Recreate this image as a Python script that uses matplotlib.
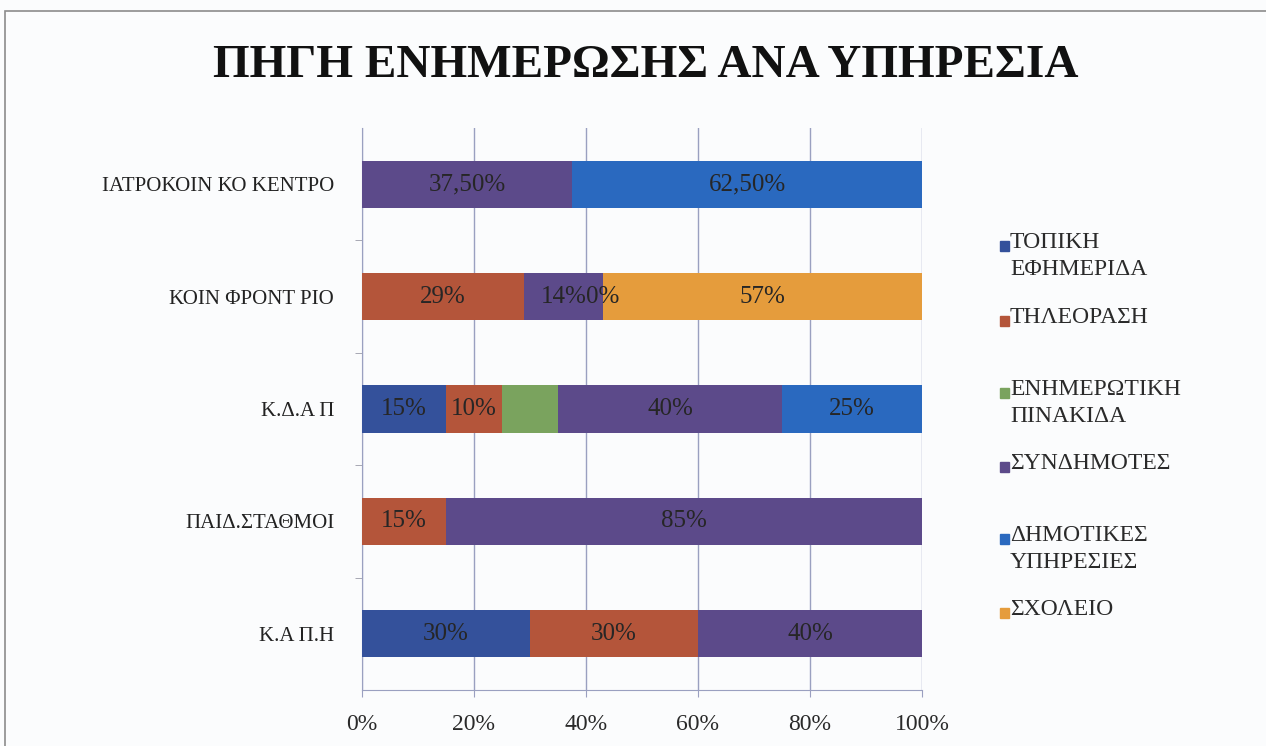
import matplotlib.pyplot as plt
from matplotlib.patches import Rectangle

# Data (categories from bottom to top)
categories = ['Κ.Α Π.Η', 'ΠΑΙΔ.ΣΤΑΘΜΟΙ', 'Κ.Δ.Α Π', 'ΚΟΙΝ ΦΡΟΝΤ ΡΙΟ', 'ΙΑΤΡΟΚΟΙΝ ΚΟ ΚΕΝΤΡΟ']

series_names = ['ΤΟΠΙΚΗ\nΕΦΗΜΕΡΙΔΑ', 'ΤΗΛΕΟΡΑΣΗ', 'ΕΝΗΜΕΡΩΤΙΚΗ\nΠΙΝΑΚΙΔΑ',
                'ΣΥΝΔΗΜΟΤΕΣ', 'ΔΗΜΟΤΙΚΕΣ\nΥΠΗΡΕΣΙΕΣ', 'ΣΧΟΛΕΙΟ']

topiki = [30, 0, 15, 0, 0]
tileorasi = [30, 15, 10, 29, 0]
pinakida = [0, 0, 10, 0, 0]
syndimotes = [40, 85, 40, 14, 37.5]
dimotikes = [0, 0, 25, 0, 62.5]
sxoleio = [0, 0, 0, 57, 0]

# data labels as shown on the chart ('' = no label)
lbl_topiki = ['30%', '', '15%', '', '']
lbl_tileorasi = ['30%', '15%', '10%', '29%', '']
lbl_pinakida = ['', '', '', '', '']
lbl_syndimotes = ['40%', '85%', '40%', '14%', '37,50%']
lbl_dimotikes = ['', '', '25%', '0%', '62,50%']
lbl_sxoleio = ['', '', '', '57%', '']

xticks = [0, 20, 40, 60, 80, 100]
xtick_labels = ['0%', '20%', '40%', '60%', '80%', '100%']

colors = ['#34519b', '#b4553a', '#7aa35e', '#5c4a8a', '#2a69bf', '#e59c3c']

all_vals = [topiki, tileorasi, pinakida, syndimotes, dimotikes, sxoleio]
all_lbls = [lbl_topiki, lbl_tileorasi, lbl_pinakida, lbl_syndimotes, lbl_dimotikes, lbl_sxoleio]

serif = ['Liberation Serif', 'DejaVu Serif']

fig = plt.figure(figsize=(12.66, 7.46), dpi=100, facecolor='#fbfcfd')
ax = fig.add_axes([0.2859, 0.0751, 0.4424, 0.7533])
ax.set_facecolor('#fbfcfd')

ypos = list(range(len(categories)))
left = [0] * len(categories)
for vals, lbls, col in zip(all_vals, all_lbls, colors):
    ax.barh(ypos, vals, left=left, height=0.42, color=col, zorder=3)
    for y, v, l0, t in zip(ypos, vals, left, lbls):
        if t:
            ax.text(l0 + v / 2, y, t, ha='center', va='center', fontsize=18,
                    family=serif, color='#262626', zorder=4)
    left = [a + b for a, b in zip(left, vals)]

ax.set_xlim(0, 100)
ax.set_ylim(-0.5, len(categories) - 0.5)
ax.set_xticks(xticks)
ax.set_xticklabels(xtick_labels, family=serif, fontsize=17, color='#2a2a2a')
ax.set_yticks(ypos)
ax.set_yticklabels(categories, family=serif, fontsize=15, color='#222222')
ax.set_yticks([0.5, 1.5, 2.5, 3.5], minor=True)
ax.tick_params(axis='y', which='major', length=0, pad=20)
ax.tick_params(axis='y', which='minor', length=5, color='#9a9aa8', direction='out')
ax.tick_params(axis='x', length=5, color='#9a9fc0', pad=12)

ax.grid(axis='x', color='#9aa0c0', linewidth=1, zorder=0)
for s in ['top', 'right']:
    ax.spines[s].set_visible(False)
ax.spines['left'].set_color('#9aa0c0')
ax.spines['bottom'].set_color('#9aa0c0')

# Title
fig.text(0.51, 0.912, 'ΠΗΓΗ ΕΝΗΜΕΡΩΣΗΣ ΑΝΑ ΥΠΗΡΕΣΙΑ', ha='center', va='center',
         fontsize=34, fontweight='bold', family=serif, color='#111111')

# Legend (manual, marker beside the first line of each entry)
leg_y = [245, 320, 392, 466, 538, 612]
for name, col, py in zip(series_names, colors, leg_y):
    fy = 1 - py / 746
    fig.patches.append(Rectangle((1000 / 1266, fy - 0.0075), 0.0071, 0.0125,
                                 transform=fig.transFigure, color=col))
    fig.text(1010 / 1266, fy + 0.018, name, ha='left', va='top', fontsize=17,
             family=serif, color='#2a2a2a', linespacing=1.38)

# outer frame
fig.patches.append(Rectangle((0.004, -0.01), 1.0, 0.995, transform=fig.transFigure,
                             fill=False, edgecolor='#8c8c8c', linewidth=1.2))

fig.savefig('out.png', dpi=100, facecolor=fig.get_facecolor())
